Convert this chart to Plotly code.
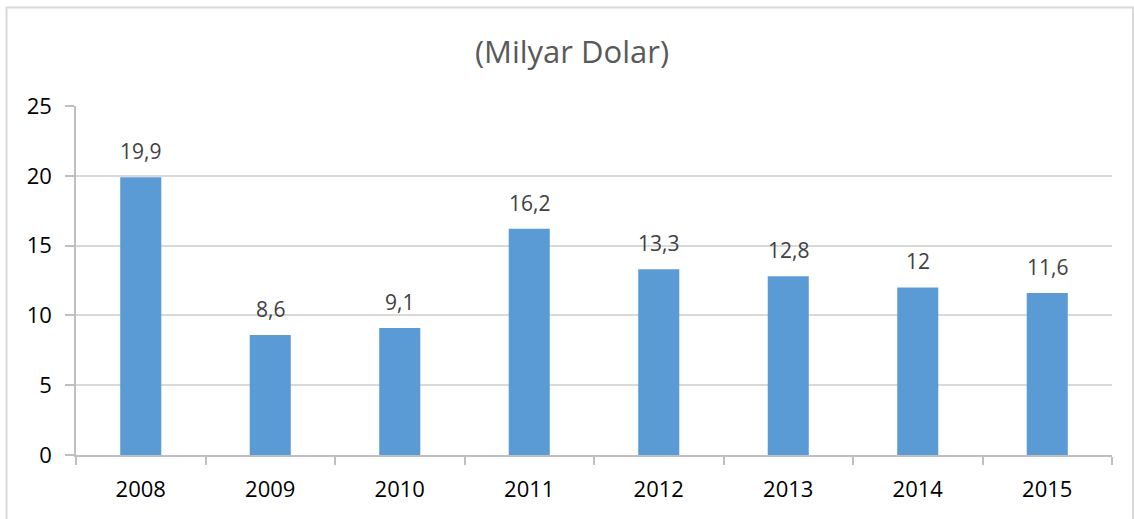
import plotly.graph_objects as go

years = ["2008", "2009", "2010", "2011", "2012", "2013", "2014", "2015"]
values = [19.9, 8.6, 9.1, 16.2, 13.3, 12.8, 12, 11.6]
labels = ["19,9", "8,6", "9,1", "16,2", "13,3", "12,8", "12", "11,6"]
y_ticks = [0, 5, 10, 15, 20, 25]

W, H = 1134, 519
L, R, T, B = 76, 22, 106, 64
pw, ph = W - L - R, H - T - B
FONT = "Open Sans, Noto Sans, Liberation Sans, sans-serif"

fig = go.Figure()
fig.add_trace(go.Bar(
    x=years, y=values,
    marker=dict(color="#5B9BD5", line=dict(width=0)),
    hoverinfo="skip",
))

for i, (v, lab) in enumerate(zip(values, labels)):
    fig.add_annotation(x=i, y=v, text=lab, showarrow=False,
                       xanchor="center", yanchor="bottom", yshift=10,
                       font=dict(size=21, color="#404040", family=FONT))

def px_x(v):
    return (v - L) / pw

def px_y(v):
    return (H - B - v) / ph

fig.add_shape(type="rect", xref="paper", yref="paper",
              x0=px_x(6.5), x1=px_x(1133), y0=px_y(540), y1=px_y(7.5),
              line=dict(color="#D9D9D9", width=2), layer="below")

fig.update_layout(
    width=W, height=H,
    margin=dict(l=L, r=R, t=T, b=B),
    plot_bgcolor="white", paper_bgcolor="white",
    bargap=0.683,
    showlegend=False,
    title=dict(text="(Milyar Dolar)", x=572 / W, xref="container", xanchor="center",
               y=1 - 52 / H, yanchor="middle", yref="container",
               font=dict(size=31, color="#595959", family=FONT)),
    font=dict(family=FONT),
)

fig.update_xaxes(
    type="category", categoryorder="array", categoryarray=years, range=[-0.5, len(years) - 0.5],
    showline=True, linecolor="#BFBFBF", linewidth=1.5,
    ticks="outside", tickson="boundaries", ticklen=8, tickcolor="#BFBFBF", tickwidth=1.5,
    tickfont=dict(size=22, color="#000000"), ticklabelstandoff=14, showgrid=False,
)
fig.update_yaxes(
    range=[0, 25], tickvals=y_ticks, showline=True, linecolor="#BFBFBF", linewidth=1.5,
    ticks="outside", ticklen=9, tickcolor="#BFBFBF", tickwidth=1.5,
    tickfont=dict(size=22, color="#000000"), ticklabelstandoff=9,
    showgrid=True, gridcolor="#D9D9D9", gridwidth=1.5, zeroline=False,
)

fig.write_html("out.html", config={"displayModeBar": False},
               post_script="document.body.style.margin='0';")
